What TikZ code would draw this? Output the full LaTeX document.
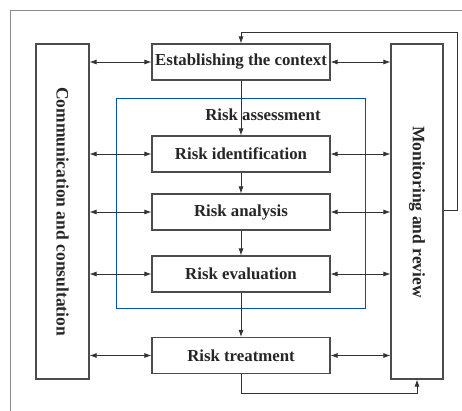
\documentclass[tikz,border=0pt]{standalone}
\usepackage{fontspec}
\setmainfont{Liberation Serif}
\usetikzlibrary{arrows.meta}
\begin{document}
\begin{tikzpicture}[x=1pt,y=-1pt,
  txt/.style={font=\bfseries\fontsize{16.8}{19}\selectfont,text=black!85},
  box/.style={draw=black!70,line width=1.1pt,fill=white,inner sep=0pt,txt},
  sidebox/.style={draw=black!70,line width=1.1pt,fill=white,inner sep=0pt},
  conn/.style={draw=black!80,line width=0.8pt},
  tip/.style={-{Latex[length=7pt,width=5pt]}},
  dtip/.style={{Latex[length=7pt,width=5pt]}-{Latex[length=7pt,width=5pt]}}]
\useasboundingbox (0,0) rectangle (462,410);
\fill[white] (0,0) rectangle (462,410);
\draw[black!45,line width=0.8pt] (10.5,420) -- (10.5,10) -- (470,10);
% blue risk assessment frame
\node[draw=blue!55!cyan!70!black,line width=0.7pt,minimum width=249pt,minimum height=210pt,inner sep=0pt] (ra) at (240.5,203) {};
\node[txt] (ralabel) at (263,115) {Risk assessment};
% side boxes
\node[sidebox,minimum width=53pt,minimum height=335pt] (cc) at (62.5,211.5) {};
\node[rotate=-90,txt,font=\bfseries\fontsize{17.5}{19}\selectfont] (cctext) at (62.5,211.5) {Communication and consultation};
\node[sidebox,minimum width=52pt,minimum height=335pt] (mr) at (417,211.5) {};
\node[rotate=-90,txt,font=\bfseries\fontsize{17.5}{19}\selectfont] (mrtext) at (417,212) {Monitoring and review};
% process boxes
\node[box,minimum width=178pt,minimum height=36pt] (ec) at (241,62) {Establishing the context};
\node[box,minimum width=178pt,minimum height=36pt] (ri) at (241,154) {Risk identification};
\node[box,minimum width=178pt,minimum height=36pt] (ran) at (241,212) {Risk analysis};
\node[box,minimum width=178pt,minimum height=36pt] (rev) at (241,274) {Risk evaluation};
\node[box,minimum width=178pt,minimum height=36pt] (rt) at (241,355.5) {Risk treatment};
% vertical flow
\draw[conn,tip] (ec.south) -- (ri.north);
\draw[conn,tip] (ri.south) -- (ran.north);
\draw[conn,tip] (ran.south) -- (rev.north);
\draw[conn,tip] (rev.south) -- (rt.north);
% horizontal double arrows
\foreach \n in {ec,ri,ran,rev,rt}{
  \draw[conn,dtip] (cc.east |- \n.west) -- (\n.west);
  \draw[conn,dtip] (\n.east) -- (mr.west |- \n.east);
}
% feedback loops
\coordinate (fb1) at (457,210);
\coordinate (fb2) at (457,32);
\draw[conn,tip] (mr.east |- fb1) -- (fb1) -- (fb2) -- (ec.north |- fb2) -- (ec.north);
\coordinate (bt) at (241,393);
\coordinate (bt2) at (417,393);
\draw[conn,tip] (rt.south) -- (bt) -- (bt2) -- (mr.south);
\end{tikzpicture}
\end{document}
